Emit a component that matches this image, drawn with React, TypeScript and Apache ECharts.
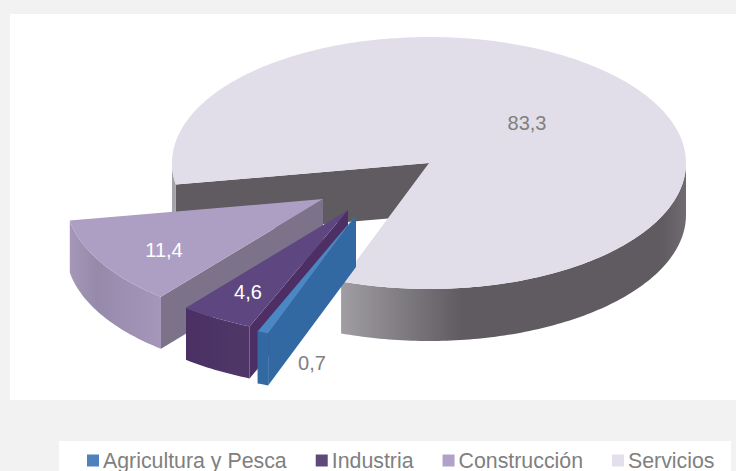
import React, { useEffect, useRef } from "react";
import * as echarts from "echarts";

const categories = ["Agricultura y Pesca", "Industria", "Construcción", "Servicios"];
const values = [0.7, 4.6, 11.4, 83.3];
const valueLabels = ["0,7", "4,6", "11,4", "83,3"];

const FONT = '"Liberation Sans", Arial, sans-serif';
const CX = 429;
const CY = 163;
const RX = 257;
const RY = 126;
const DEPTH = 52;
const START = 110;

const topColors = ["#4a88c4", "#5e4680", "#ad9fc4", "#e1dee9"];
const legendColors = ["#4f81bd", "#5f497a", "#b1a0c7", "#e4dfec"];
const faceColors = ["#3369a3", "#4d2f66", "#7c7289", "#5f5b60"];
const explode = [[-73, 52], [-81, 47], [-106, 36], [0, 0]];
const labelPos = [[312, 363], [248, 292], [164, 250], [527, 123]];
const labelColors = ["#808080", "#ffffff", "#ffffff", "#808080"];
const sideStops = [
  [[0, "#3369a3"], [1, "#3369a3"]],
  [[0, "#4a3063"], [1, "#4f3868"]],
  [[0, "#a497b8"], [0.3, "#968aab"], [1, "#a596ba"]],
  [[0, "#a09da3"], [0.35, "#5f5b60"], [0.93, "#5f5b60"], [1, "#6f6b70"]],
];

const total = values.reduce((a, b) => a + b, 0);
const rad = (d: number) => (d * Math.PI) / 180;

function arc(ox: number, oy: number, a0: number, a1: number, dy = 0) {
  const pts: number[][] = [];
  const n = Math.max(2, Math.ceil(Math.abs(a1 - a0)));
  for (let i = 0; i <= n; i++) {
    const t = rad(a0 + ((a1 - a0) * i) / n);
    pts.push([CX + ox + RX * Math.cos(t), CY + oy + RY * Math.sin(t) + dy]);
  }
  return pts;
}

function visibleRanges(a0: number, a1: number) {
  const out: number[][] = [];
  for (const base of [0, 360]) {
    const lo = Math.max(a0, base);
    const hi = Math.min(a1, base + 180);
    if (hi > lo) out.push([lo, hi]);
  }
  return out;
}

function sliceRenderer(index: number) {
  return (_params: any, api: any) => {
    const v = api.value(0);
    let a0 = START;
    for (let i = 0; i < index; i++) a0 += (values[i] / total) * 360;
    const a1 = a0 + (v / total) * 360;
    const [ox, oy] = explode[index];
    const c = [CX + ox, CY + oy];
    const children: any[] = [];

    if (Math.cos(rad(a0)) < 0) {
      const rim = arc(ox, oy, a0, a0)[0];
      children.push({
        type: "polygon",
        shape: { points: [c, rim, [rim[0], rim[1] + DEPTH], [c[0], c[1] + DEPTH]] },
        style: { fill: faceColors[index] },
      });
    }
    for (const [lo, hi] of visibleRanges(a0, a1)) {
      const up = arc(ox, oy, lo, hi);
      const down = arc(ox, oy, lo, hi, DEPTH).reverse();
      const xs = arc(ox, oy, a0, a1).map((p) => p[0]);
      const minX = index === 3 ? arc(ox, oy, 110, 110)[0][0] : Math.min(...xs);
      const maxX = index === 3 ? CX + RX : Math.max(...xs);
      children.push({
        type: "polygon",
        shape: { points: [...up, ...down] },
        style: {
          fill:
            index === 3 && lo > 100 && lo < 200
              ? "#a5a2a8"
              : {
                  type: "linear",
                  global: true,
                  x: minX,
                  y: 0,
                  x2: maxX,
                  y2: 0,
                  colorStops: sideStops[index].map(([offset, color]) => ({ offset, color })),
                },
        },
      });
    }
    children.push({
      type: "polygon",
      shape: { points: [c, ...arc(ox, oy, a0, a1)] },
      style: { fill: topColors[index] },
    });
    children.push({
      type: "text",
      style: {
        text: valueLabels[index],
        x: labelPos[index][0],
        y: labelPos[index][1],
        align: "center",
        verticalAlign: "middle",
        fill: labelColors[index],
        font: `20px ${FONT}`,
      },
    });
    return { type: "group", children };
  };
}

export default function App() {
  const ref = useRef<HTMLDivElement>(null);
  useEffect(() => {
    const chart = echarts.init(ref.current!, null, { renderer: "svg" });
    chart.setOption({
      animation: false,
      backgroundColor: "#f2f2f2",
      graphic: [
        { type: "rect", z: -1, shape: { x: 10, y: 14, width: 726, height: 386 }, style: { fill: "#ffffff" } },
        { type: "rect", z: -1, shape: { x: 59, y: 441, width: 672, height: 30 }, style: { fill: "#ffffff" } },
      ],
      legend: {
        left: 82,
        top: 450,
        padding: [0, 0, 0, 5],
        itemGap: 29,
        itemWidth: 12,
        itemHeight: 12,
        icon: "rect",
        selectedMode: false,
        data: categories.map((name, i) => ({ name, itemStyle: { color: legendColors[i] } })),
        textStyle: { color: "#808080", fontSize: 21.33, fontFamily: FONT, padding: [0, 0, 0, -1] },
      },
      series: categories.map((name, i) => ({
        type: "custom",
        name,
        coordinateSystem: "none",
        z: 5 - i,
        silent: true,
        itemStyle: { color: legendColors[i] },
        renderItem: sliceRenderer(i),
        data: [[values[i]]],
      })),
    });
    return () => chart.dispose();
  }, []);
  return <div ref={ref} style={{ position: "absolute", left: 0, top: 0, width: 736, height: 471 }} />;
}
